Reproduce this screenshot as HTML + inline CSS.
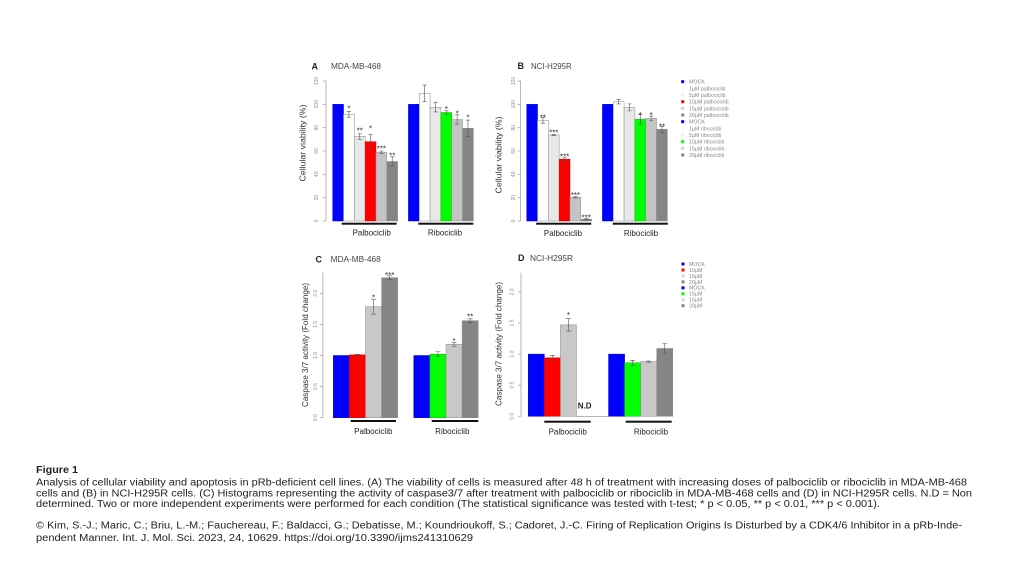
<!DOCTYPE html>
<html><head><meta charset="utf-8"><style>
html,body{margin:0;padding:0;background:#fff;}
svg{display:block;}
text{font-family:"Liberation Sans",Arial,sans-serif;}
.tk{font-size:5px;fill:#888;}
.yt{font-size:8px;fill:#333;}
.gl{font-size:8px;fill:#222;}
.st{font-size:8px;fill:#333;}
.lg{font-size:5.3px;fill:#888;}
.cap{font-size:10px;fill:#222;}
</style></head><body>
<svg width="1024" height="574" viewBox="0 0 1024 574" xmlns="http://www.w3.org/2000/svg">
<rect width="1024" height="574" fill="#fff"/>

<!-- ===== Panel A ===== -->
<text x="311.5" y="69.5" font-size="9" font-weight="bold" fill="#222">A</text>
<text x="331" y="69" font-size="8" fill="#444" textLength="50" lengthAdjust="spacingAndGlyphs">MDA-MB-468</text>
<g stroke="#999" stroke-width="0.7" fill="none">
<line x1="326" y1="81" x2="326" y2="221"/>
<line x1="323" y1="221" x2="326" y2="221"/><line x1="323" y1="197.7" x2="326" y2="197.7"/><line x1="323" y1="174.3" x2="326" y2="174.3"/><line x1="323" y1="151" x2="326" y2="151"/><line x1="323" y1="127.7" x2="326" y2="127.7"/><line x1="323" y1="104.3" x2="326" y2="104.3"/><line x1="323" y1="81" x2="326" y2="81"/>
</g>
<g class="tk" text-anchor="middle">
<text transform="translate(318,221) rotate(-90)">0</text>
<text transform="translate(318,197.7) rotate(-90)">20</text>
<text transform="translate(318,174.3) rotate(-90)">40</text>
<text transform="translate(318,151) rotate(-90)">60</text>
<text transform="translate(318,127.7) rotate(-90)">80</text>
<text transform="translate(318,104.3) rotate(-90)">100</text>
<text transform="translate(318,81) rotate(-90)">120</text>
</g>
<text class="yt" transform="translate(305.6,143) rotate(-90)" text-anchor="middle" textLength="77" lengthAdjust="spacingAndGlyphs">Cellular viability (%)</text>
<g stroke="#8a8a8a" stroke-width="0.5">
<rect x="332.7" y="104.33" width="10.82" height="116.67" fill="#0000ff" stroke="#0000cc"/>
<rect x="343.52" y="114.25" width="10.82" height="106.75" fill="#fdfdfd"/>
<rect x="354.34" y="136.42" width="10.82" height="84.58" fill="#e8e8e8"/>
<rect x="365.16" y="141.67" width="10.82" height="79.33" fill="#ff0000" stroke="#cc0000"/>
<rect x="375.98" y="152.17" width="10.82" height="68.83" fill="#c4c4c4"/>
<rect x="386.8" y="161.5" width="10.82" height="59.5" fill="#858585"/>
<rect x="408.44" y="104.33" width="10.82" height="116.67" fill="#0000ff" stroke="#0000cc"/>
<rect x="419.26" y="93.25" width="10.82" height="127.75" fill="#fdfdfd"/>
<rect x="430.08" y="107.25" width="10.82" height="113.75" fill="#e8e8e8"/>
<rect x="440.9" y="112.5" width="10.82" height="108.5" fill="#00ff00" stroke="#00bb00"/>
<rect x="451.72" y="119.5" width="10.82" height="101.5" fill="#c4c4c4"/>
<rect x="462.54" y="128.25" width="10.82" height="92.75" fill="#858585"/>
</g>
<g stroke="#555" stroke-width="0.6">
<path d="M348.93 111.35V117.15M346.9 111.35H351M346.9 117.15H351"/>
<path d="M359.75 133.5V139.3M357.7 133.5H361.8M357.7 139.3H361.8"/>
<path d="M370.57 134.7V148.7M368.5 134.7H372.6M368.5 148.7H372.6"/>
<path d="M381.39 151V153.4M379.3 151H383.4M379.3 153.4H383.4"/>
<path d="M392.21 156.8V166.2M390.2 156.8H394.3M390.2 166.2H394.3"/>
<path d="M424.67 85.05V101.45M422.6 85.05H426.7M422.6 101.45H426.7"/>
<path d="M435.49 102.55V111.95M433.4 102.55H437.5M433.4 111.95H437.5"/>
<path d="M446.31 110.75V114.25M444.3 110.75H448.4M444.3 114.25H448.4"/>
<path d="M457.13 114.8V124.2M455.1 114.8H459.2M455.1 124.2H459.2"/>
<path d="M467.95 120.05V136.45M465.9 120.05H470M465.9 136.45H470"/>
</g>
<g class="st" text-anchor="middle">
<text x="348.93" y="111.3">*</text>
<text x="359.75" y="133.6">**</text>
<text x="370.57" y="131.3">*</text>
<text x="381.39" y="151.3">***</text>
<text x="392.21" y="158.6">**</text>
<text x="446.31" y="111.9">*</text>
<text x="457.13" y="116.3">*</text>
<text x="467.95" y="120.6">*</text>
</g>
<rect x="341.7" y="222.7" width="55" height="2" fill="#111"/>
<rect x="418.3" y="222.7" width="55" height="2" fill="#111"/>
<text class="gl" x="371.7" y="235.6" text-anchor="middle">Palbociclib</text>
<text class="gl" x="445" y="235.6" text-anchor="middle">Ribociclib</text>

<!-- ===== Panel B ===== -->
<text x="517.5" y="69" font-size="9" font-weight="bold" fill="#222">B</text>
<text x="531" y="69" font-size="8" fill="#444" textLength="40.7" lengthAdjust="spacingAndGlyphs">NCI-H295R</text>
<g stroke="#999" stroke-width="0.7" fill="none">
<line x1="520.6" y1="81" x2="520.6" y2="221"/>
<line x1="517.6" y1="221" x2="520.6" y2="221"/><line x1="517.6" y1="197.7" x2="520.6" y2="197.7"/><line x1="517.6" y1="174.3" x2="520.6" y2="174.3"/><line x1="517.6" y1="151" x2="520.6" y2="151"/><line x1="517.6" y1="127.7" x2="520.6" y2="127.7"/><line x1="517.6" y1="104.3" x2="520.6" y2="104.3"/><line x1="517.6" y1="81" x2="520.6" y2="81"/>
</g>
<g class="tk" text-anchor="middle">
<text transform="translate(515,221) rotate(-90)">0</text>
<text transform="translate(515,197.7) rotate(-90)">20</text>
<text transform="translate(515,174.3) rotate(-90)">40</text>
<text transform="translate(515,151) rotate(-90)">60</text>
<text transform="translate(515,127.7) rotate(-90)">80</text>
<text transform="translate(515,104.3) rotate(-90)">100</text>
<text transform="translate(515,81) rotate(-90)">120</text>
</g>
<text class="yt" transform="translate(501.4,155) rotate(-90)" text-anchor="middle" textLength="77" lengthAdjust="spacingAndGlyphs">Cellular viability (%)</text>
<g stroke="#8a8a8a" stroke-width="0.5">
<rect x="526.7" y="104.33" width="10.82" height="116.67" fill="#0000ff" stroke="#0000cc"/>
<rect x="537.52" y="120.32" width="10.82" height="100.68" fill="#fdfdfd"/>
<rect x="548.34" y="135.02" width="10.82" height="85.98" fill="#e8e8e8"/>
<rect x="559.16" y="159.17" width="10.82" height="61.83" fill="#ff0000" stroke="#cc0000"/>
<rect x="569.98" y="197.32" width="10.82" height="23.68" fill="#c4c4c4"/>
<rect x="580.8" y="219.25" width="10.82" height="1.75" fill="#858585"/>
<rect x="602.44" y="104.33" width="10.82" height="116.67" fill="#0000ff" stroke="#0000cc"/>
<rect x="613.26" y="101.65" width="10.82" height="119.35" fill="#fdfdfd"/>
<rect x="624.08" y="107.37" width="10.82" height="113.63" fill="#e8e8e8"/>
<rect x="634.9" y="119.38" width="10.82" height="101.62" fill="#00ff00" stroke="#00bb00"/>
<rect x="645.72" y="118.33" width="10.82" height="102.67" fill="#c4c4c4"/>
<rect x="656.54" y="129.3" width="10.82" height="91.7" fill="#858585"/>
</g>
<g stroke="#555" stroke-width="0.6">
<path d="M542.93 117.42V123.22M540.9 117.42H545M540.9 123.22H545"/>
<path d="M553.75 134.4V135.6M551.7 134.4H555.8M551.7 135.6H555.8"/>
<path d="M564.57 157.5V160.9M562.5 157.5H566.6M562.5 160.9H566.6"/>
<path d="M575.39 196.7V197.9M573.3 196.7H577.4M573.3 197.9H577.4"/>
<path d="M586.21 218.6V219.9M584.2 218.6H588.3M584.2 219.9H588.3"/>
<path d="M618.67 99.35V103.95M616.6 99.35H620.7M616.6 103.95H620.7"/>
<path d="M629.49 103.87V110.87M627.4 103.87H631.5M627.4 110.87H631.5"/>
<path d="M640.31 114.68V124.08M638.3 114.68H642.4M638.3 124.08H642.4"/>
<path d="M651.13 116.03V120.63M649.1 116.03H653.2M649.1 120.63H653.2"/>
<path d="M661.95 126.4V132.2M659.9 126.4H664M659.9 132.2H664"/>
</g>
<g class="st" text-anchor="middle">
<text x="542.93" y="120.6">**</text>
<text x="553.75" y="135.3">***</text>
<text x="564.57" y="159.6">***</text>
<text x="575.39" y="197.9">***</text>
<text x="586.21" y="220.6">***</text>
<text x="640.31" y="117.9">*</text>
<text x="651.13" y="117.9">*</text>
<text x="661.95" y="129.6">**</text>
</g>
<rect x="536.2" y="222.7" width="55" height="2" fill="#111"/>
<rect x="612.8" y="222.7" width="55" height="2" fill="#111"/>
<text class="gl" x="563" y="236" text-anchor="middle">Palbociclib</text>
<text class="gl" x="641" y="236" text-anchor="middle">Ribociclib</text>

<!-- Legend A/B -->
<g>
<rect x="681.2" y="80.2" width="3" height="3" fill="#0000ff"/>
<rect x="681.2" y="86.9" width="3" height="3" fill="#fdfdfd"/>
<rect x="681.2" y="93.5" width="3" height="3" fill="#f0f0f0"/>
<rect x="681.2" y="100.2" width="3" height="3" fill="#ff0000"/>
<rect x="681.2" y="106.9" width="3" height="3" fill="#d0d0d0"/>
<rect x="681.2" y="113.5" width="3" height="3" fill="#858585"/>
<rect x="681.2" y="120.2" width="3" height="3" fill="#0000ff"/>
<rect x="681.2" y="126.9" width="3" height="3" fill="#fdfdfd"/>
<rect x="681.2" y="133.5" width="3" height="3" fill="#f0f0f0"/>
<rect x="681.2" y="140.2" width="3" height="3" fill="#00ff00"/>
<rect x="681.2" y="146.9" width="3" height="3" fill="#d0d0d0"/>
<rect x="681.2" y="153.5" width="3" height="3" fill="#858585"/>
</g>
<g class="lg">
<text x="689" y="83.6">MOCK</text>
<text x="689" y="90.3">1µM palbociclib</text>
<text x="689" y="96.9">5µM palbociclib</text>
<text x="689" y="103.6">10µM palbociclib</text>
<text x="689" y="110.3">15µM palbociclib</text>
<text x="689" y="116.9">20µM palbociclib</text>
<text x="689" y="123.6">MOCK</text>
<text x="689" y="130.3">1µM ribociclib</text>
<text x="689" y="136.9">5µM ribociclib</text>
<text x="689" y="143.6">10µM ribociclib</text>
<text x="689" y="150.3">15µM ribociclib</text>
<text x="689" y="156.9">20µM ribociclib</text>
</g>

<!-- ===== Panel C ===== -->
<text x="315.5" y="262.3" font-size="9" font-weight="bold" fill="#222">C</text>
<text x="330.7" y="262" font-size="8" fill="#444" textLength="50" lengthAdjust="spacingAndGlyphs">MDA-MB-468</text>
<g stroke="#999" stroke-width="0.7" fill="none">
<line x1="322.9" y1="272.7" x2="322.9" y2="417.7"/>
<line x1="319.9" y1="417.7" x2="322.9" y2="417.7"/><line x1="319.9" y1="386.6" x2="322.9" y2="386.6"/><line x1="319.9" y1="355.5" x2="322.9" y2="355.5"/><line x1="319.9" y1="324.4" x2="322.9" y2="324.4"/><line x1="319.9" y1="293.3" x2="322.9" y2="293.3"/>
</g>
<g class="tk" text-anchor="middle">
<text transform="translate(317,417.7) rotate(-90)">0.0</text>
<text transform="translate(317,386.6) rotate(-90)">0.5</text>
<text transform="translate(317,355.5) rotate(-90)">1.0</text>
<text transform="translate(317,324.4) rotate(-90)">1.5</text>
<text transform="translate(317,293.3) rotate(-90)">2.0</text>
</g>
<text class="yt" transform="translate(308,345) rotate(-90)" text-anchor="middle" textLength="124" lengthAdjust="spacingAndGlyphs">Caspase 3/7 activity (Fold change)</text>
<g stroke="#8a8a8a" stroke-width="0.5">
<rect x="333.3" y="355.5" width="16.1" height="62.2" fill="#0000ff" stroke="#0000cc"/>
<rect x="349.4" y="354.88" width="16.1" height="62.82" fill="#ff0000" stroke="#cc0000"/>
<rect x="365.5" y="306.67" width="16.1" height="111.03" fill="#c8c8c8"/>
<rect x="381.6" y="277.75" width="16.1" height="139.95" fill="#858585"/>
<rect x="413.8" y="355.5" width="16.1" height="62.2" fill="#0000ff" stroke="#0000cc"/>
<rect x="429.9" y="354.26" width="16.1" height="63.44" fill="#00ff00" stroke="#00bb00"/>
<rect x="446" y="344.3" width="16.1" height="73.4" fill="#c8c8c8"/>
<rect x="462.1" y="320.67" width="16.1" height="97.03" fill="#858585"/>
</g>
<g stroke="#555" stroke-width="0.6">
<path d="M357.45 354.3V355.5M355 354.3H359.9M355 355.5H359.9"/>
<path d="M373.55 299.17V314.17M371.1 299.17H376M371.1 314.17H376"/>
<path d="M389.65 275.85V279.65M387.2 275.85H392.1M387.2 279.65H392.1"/>
<path d="M437.95 351.76V356.76M435.5 351.76H440.4M435.5 356.76H440.4"/>
<path d="M454.05 342.4V346.2M451.6 342.4H456.5M451.6 346.2H456.5"/>
<path d="M470.15 318.77V322.57M467.7 318.77H472.6M467.7 322.57H472.6"/>
</g>
<g class="st" text-anchor="middle">
<text x="373.55" y="300.6">*</text>
<text x="389.65" y="277.9">***</text>
<text x="454.05" y="343.9">*</text>
<text x="470.15" y="319.6">**</text>
</g>
<rect x="350.7" y="420" width="45.3" height="2" fill="#111"/>
<rect x="431.7" y="420" width="46.6" height="2" fill="#111"/>
<text class="gl" x="373.3" y="434" text-anchor="middle">Palbociclib</text>
<text class="gl" x="452.3" y="434" text-anchor="middle">Ribociclib</text>

<!-- ===== Panel D ===== -->
<text x="518" y="261" font-size="9" font-weight="bold" fill="#222">D</text>
<text x="530" y="261" font-size="8" fill="#444" textLength="43" lengthAdjust="spacingAndGlyphs">NCI-H295R</text>
<g stroke="#999" stroke-width="0.7" fill="none">
<line x1="521" y1="272.7" x2="521" y2="416.3"/>
<line x1="518" y1="416.3" x2="521" y2="416.3"/><line x1="518" y1="385.2" x2="521" y2="385.2"/><line x1="518" y1="354.1" x2="521" y2="354.1"/><line x1="518" y1="323" x2="521" y2="323"/><line x1="518" y1="291.9" x2="521" y2="291.9"/>
</g>
<g class="tk" text-anchor="middle">
<text transform="translate(513.7,416.3) rotate(-90)">0.0</text>
<text transform="translate(513.7,385.2) rotate(-90)">0.5</text>
<text transform="translate(513.7,354.1) rotate(-90)">1.0</text>
<text transform="translate(513.7,323) rotate(-90)">1.5</text>
<text transform="translate(513.7,291.9) rotate(-90)">2.0</text>
</g>
<text class="yt" transform="translate(501.5,344) rotate(-90)" text-anchor="middle" textLength="124" lengthAdjust="spacingAndGlyphs">Caspase 3/7 activity (Fold change)</text>
<g stroke="#8a8a8a" stroke-width="0.5">
<rect x="528.3" y="354.1" width="16.05" height="62.2" fill="#0000ff" stroke="#0000cc"/>
<rect x="544.35" y="357.83" width="16.05" height="58.47" fill="#ff0000" stroke="#cc0000"/>
<rect x="560.4" y="324.87" width="16.05" height="91.43" fill="#c8c8c8"/>
<rect x="608.55" y="354.1" width="16.05" height="62.2" fill="#0000ff" stroke="#0000cc"/>
<rect x="624.6" y="362.81" width="16.05" height="53.49" fill="#00ff00" stroke="#00bb00"/>
<rect x="640.65" y="361.56" width="16.05" height="54.74" fill="#c8c8c8"/>
<rect x="656.7" y="348.5" width="16.05" height="67.8" fill="#858585"/>
</g>
<line x1="576.45" y1="416.3" x2="608.55" y2="416.3" stroke="#888" stroke-width="0.6"/>
<g stroke="#555" stroke-width="0.6">
<path d="M552.38 355.33V360.33M549.9 355.33H554.8M549.9 360.33H554.8"/>
<path d="M568.43 318.67V331.07M566 318.67H570.9M566 331.07H570.9"/>
<path d="M632.63 360.31V365.31M630.2 360.31H635.1M630.2 365.31H635.1"/>
<path d="M648.68 361V362.2M646.2 361H651.1M646.2 362.2H651.1"/>
<path d="M664.73 343.5V353.5M662.3 343.5H667.2M662.3 353.5H667.2"/>
</g>
<text class="st" x="568.43" y="317.9" text-anchor="middle">*</text>
<text x="584.7" y="408.6" font-size="8" font-weight="bold" fill="#222" text-anchor="middle">N.D</text>
<rect x="544.3" y="420.7" width="46.4" height="2" fill="#111"/>
<rect x="625.7" y="420.7" width="46" height="2" fill="#111"/>
<text class="gl" x="567.7" y="434.6" text-anchor="middle">Palbociclib</text>
<text class="gl" x="651" y="434.6" text-anchor="middle">Ribociclib</text>

<!-- Legend D -->
<g>
<rect x="681.5" y="262.5" width="3" height="3" fill="#0000ff"/>
<rect x="681.5" y="268.5" width="3" height="3" fill="#ff0000"/>
<rect x="681.5" y="274.4" width="3" height="3" fill="#d8d8d8"/>
<rect x="681.5" y="280.4" width="3" height="3" fill="#858585"/>
<rect x="681.5" y="286.3" width="3" height="3" fill="#0000ff"/>
<rect x="681.5" y="292.3" width="3" height="3" fill="#00ff00"/>
<rect x="681.5" y="298.2" width="3" height="3" fill="#d8d8d8"/>
<rect x="681.5" y="304.2" width="3" height="3" fill="#858585"/>
</g>
<g class="lg">
<text x="689" y="265.9">MOCK</text>
<text x="689" y="271.9">10µM</text>
<text x="689" y="277.8">15µM</text>
<text x="689" y="283.8">20µM</text>
<text x="689" y="289.7">MOCK</text>
<text x="689" y="295.7">15µM</text>
<text x="689" y="301.6">15µM</text>
<text x="689" y="307.6">20µM</text>
</g>

<!-- ===== Caption ===== -->
<text x="36" y="472.8" font-size="10.5" font-weight="bold" fill="#222" textLength="42" lengthAdjust="spacingAndGlyphs">Figure 1</text>
<text class="cap" x="36" y="485.5" textLength="931" lengthAdjust="spacingAndGlyphs">Analysis of cellular viability and apoptosis in pRb-deficient cell lines. (A) The viability of cells is measured after 48 h of treatment with increasing doses of palbociclib or ribociclib in MDA-MB-468</text>
<text class="cap" x="36" y="496.3" textLength="936" lengthAdjust="spacingAndGlyphs">cells and (B) in NCI-H295R cells. (C) Histograms representing the activity of caspase3/7 after treatment with palbociclib or ribociclib in MDA-MB-468 cells and (D) in NCI-H295R cells. N.D = Non</text>
<text class="cap" x="36" y="507" textLength="844" lengthAdjust="spacingAndGlyphs">determined. Two or more independent experiments were performed for each condition (The statistical significance was tested with t-test; * p &lt; 0.05, ** p &lt; 0.01, *** p &lt; 0.001).</text>
<text class="cap" x="36" y="528.3" textLength="926" lengthAdjust="spacingAndGlyphs">© Kim, S.-J.; Maric, C.; Briu, L.-M.; Fauchereau, F.; Baldacci, G.; Debatisse, M.; Koundrioukoff, S.; Cadoret, J.-C. Firing of Replication Origins Is Disturbed by a CDK4/6 Inhibitor in a pRb-Inde-</text>
<text class="cap" x="36" y="541" textLength="437" lengthAdjust="spacingAndGlyphs">pendent Manner. Int. J. Mol. Sci. 2023, 24, 10629. https://doi.org/10.3390/ijms241310629</text>
</svg>
</body></html>
